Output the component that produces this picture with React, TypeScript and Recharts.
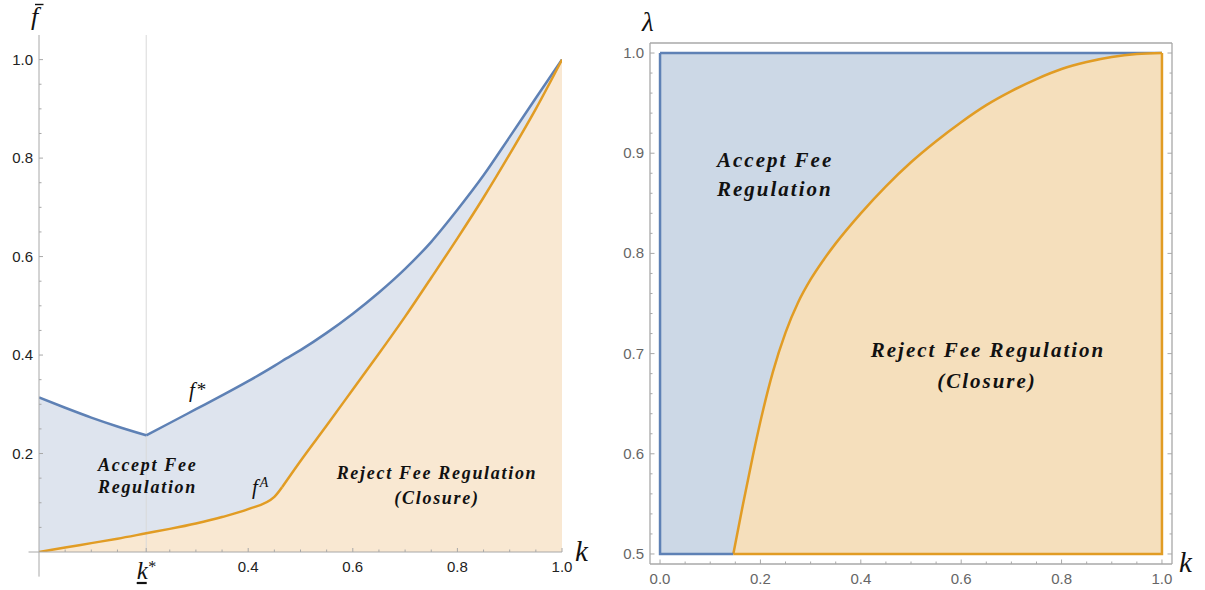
import React from 'react';
import { ComposedChart, Area, Line, XAxis, YAxis, ReferenceLine } from 'recharts';

// ---------- Left panel data ----------
const kStar = 0.205;
const kinkA = 0.465;
const leftK = [0, 0.05, 0.1, 0.15, 0.205, 0.25, 0.3, 0.35, 0.4, 0.45, 0.465, 0.5, 0.55, 0.6, 0.65, 0.7, 0.75, 0.8, 0.85, 0.9, 0.95, 1.0];
const fStarValues = [0.314, 0.293, 0.273, 0.255, 0.237, 0.262, 0.29, 0.318, 0.347, 0.378, 0.388, 0.41, 0.445, 0.484, 0.527, 0.575, 0.63, 0.695, 0.765, 0.843, 0.922, 1.0];
const fAValues = [0, 0.009, 0.018, 0.027, 0.038, 0.047, 0.058, 0.071, 0.087, 0.112, 0.132, 0.185, 0.257, 0.33, 0.403, 0.478, 0.557, 0.637, 0.72, 0.808, 0.9, 1.0];
const leftXMajor = [kStar, 0.4, 0.6, 0.8, 1.0];
const leftXMinor = [0.05, 0.1, 0.15, 0.25, 0.3, 0.35, 0.45, 0.5, 0.55, 0.65, 0.7, 0.75, 0.85, 0.9, 0.95];
const leftYMajor = [0.2, 0.4, 0.6, 0.8, 1.0];
const leftYMinor = [0.05, 0.1, 0.15, 0.25, 0.3, 0.35, 0.45, 0.5, 0.55, 0.65, 0.7, 0.75, 0.85, 0.9, 0.95];

// ---------- Right panel data ----------
const rightK = [0.146, 0.165, 0.185, 0.205, 0.225, 0.25, 0.275, 0.3, 0.325, 0.35, 0.4, 0.45, 0.5, 0.55, 0.6, 0.65, 0.7, 0.75, 0.8, 0.85, 0.9, 0.95, 1.0];
const lambdaValues = [0.5, 0.549, 0.598, 0.643, 0.682, 0.721, 0.751, 0.774, 0.793, 0.81, 0.84, 0.867, 0.891, 0.912, 0.931, 0.948, 0.962, 0.974, 0.984, 0.991, 0.996, 0.999, 1.0];
const acceptTopK = [0, 1];
const acceptTopL = [1, 1];
const acceptEdgeK = [0.146, 0, 0];
const acceptEdgeL = [0.5, 0.5, 1];
const rejectEdgeK = [0.146, 1, 1];
const rejectEdgeL = [0.5, 0.5, 1];
const rightXMajor = [0, 0.2, 0.4, 0.6, 0.8, 1.0];
const rightXMinor = [0.05, 0.1, 0.15, 0.25, 0.3, 0.35, 0.45, 0.5, 0.55, 0.65, 0.7, 0.75, 0.85, 0.9, 0.95];
const rightYMajor = [0.5, 0.6, 0.7, 0.8, 0.9, 1.0];
const rightYMinor = [0.52, 0.54, 0.56, 0.58, 0.62, 0.64, 0.66, 0.68, 0.72, 0.74, 0.76, 0.78, 0.82, 0.84, 0.86, 0.88, 0.92, 0.94, 0.96, 0.98];

const leftData = leftK.map((k, i) => ({ k, fStar: fStarValues[i], fA: fAValues[i] }));
const starLeftPart = leftData.filter((d) => d.k <= kStar + 1e-9);
const starRightPart = leftData.filter((d) => d.k >= kStar - 1e-9);
const aLeftPart = leftData.filter((d) => d.k <= kinkA + 1e-9);
const aRightPart = leftData.filter((d) => d.k >= kinkA - 1e-9);
const rightData = rightK.map((k, i) => ({ k, lam: lambdaValues[i] }));
const acceptTopData = acceptTopK.map((k, i) => ({ k, v: acceptTopL[i] }));
const acceptEdgeData = acceptEdgeK.map((k, i) => ({ k, v: acceptEdgeL[i] }));
const rejectEdgeData = rejectEdgeK.map((k, i) => ({ k, v: rejectEdgeL[i] }));

const BLUE = '#5e81b5';
const ORANGE = '#e19c24';
const SANS = '"Liberation Sans", Arial, sans-serif';
const SERIF = '"Liberation Serif", "Times New Roman", serif';

const isIn = (v: number, arr: number[]) => arr.some((a) => Math.abs(a - v) < 1e-9);

type TickOpts = {
  orient: 'bottom' | 'top' | 'left' | 'right';
  majors: number[];
  labels: boolean;
  labelColor: string;
  tickColor: string;
  majorLen: number;
  minorLen: number;
  special?: number;
};

function makeTick(o: TickOpts) {
  return (props: any) => {
    const { x, y, payload } = props;
    const v: number = payload.value;
    const major = isIn(v, o.majors);
    const len = major ? o.majorLen : o.minorLen;
    let x2 = x;
    let y2 = y;
    if (o.orient === 'bottom') y2 = y - len;
    if (o.orient === 'top') y2 = y + len;
    if (o.orient === 'left') x2 = x + len;
    if (o.orient === 'right') x2 = x - len;
    let label: React.ReactNode = null;
    if (o.labels && major) {
      if (o.special !== undefined && Math.abs(v - o.special) < 1e-9) {
        label = (
          <g>
            <text x={x - 4} y={y + 27} textAnchor="middle" fontFamily={SERIF} fontStyle="italic" fontSize={25} fill="#111">
              k
            </text>
            <text x={x + 6} y={y + 20} textAnchor="middle" fontFamily={SERIF} fontSize={16} fill="#111">
              *
            </text>
            <line x1={x - 9.5} y1={y + 31} x2={x + 0.5} y2={y + 31} stroke="#111" strokeWidth={2.2} />
          </g>
        );
      } else if (o.orient === 'bottom') {
        label = (
          <text x={x} y={y + 19.5} textAnchor="middle" fontFamily={SANS} fontSize={15} fill={o.labelColor}>
            {v.toFixed(1)}
          </text>
        );
      } else if (o.orient === 'left') {
        label = (
          <text x={x - 6} y={y + 5} textAnchor="end" fontFamily={SANS} fontSize={15} fill={o.labelColor}>
            {v.toFixed(1)}
          </text>
        );
      }
    }
    return (
      <g>
        <line x1={x} y1={y} x2={x2} y2={y2} stroke={o.tickColor} strokeWidth={1} />
        {label}
      </g>
    );
  };
}

const regionFont = {
  fontFamily: SERIF,
  fontStyle: 'italic' as const,
  fontWeight: 'bold' as const,
  fill: '#111',
};

function LeftChart() {
  const axisColor = '#a8a8a8';
  return (
    <ComposedChart width={600} height={590} data={leftData} margin={{ top: 35, right: 38, bottom: 37, left: 38 }}>
      <XAxis
        dataKey="k"
        type="number"
        domain={[0, 1]}
        allowDataOverflow
        ticks={[...leftXMinor, ...leftXMajor]}
        interval={0}
        height={1}
        tickSize={0}
        tickMargin={0}
        tickLine={false}
        axisLine={{ stroke: axisColor, strokeWidth: 1 }}
        tick={makeTick({ orient: 'bottom', majors: leftXMajor, labels: true, labelColor: '#222', tickColor: axisColor, majorLen: 4, minorLen: 2.5, special: kStar })}
      />
      <YAxis
        type="number"
        domain={[0, 1.05]}
        allowDataOverflow
        ticks={[...leftYMinor, ...leftYMajor]}
        interval={0}
        width={1}
        tickSize={0}
        tickMargin={0}
        tickLine={false}
        axisLine={{ stroke: axisColor, strokeWidth: 1 }}
        tick={makeTick({ orient: 'left', majors: leftYMajor, labels: true, labelColor: '#222', tickColor: axisColor, majorLen: 4, minorLen: 2.5 })}
      />
      <Area type="linear" dataKey="fStar" stroke="none" fill="#dee4ee" fillOpacity={1} dot={false} activeDot={false} isAnimationActive={false} />
      <Area type="linear" dataKey="fA" stroke="none" fill="#f9e8d2" fillOpacity={1} dot={false} activeDot={false} isAnimationActive={false} />
      <ReferenceLine x={kStar} stroke="#d9d9d9" strokeWidth={1} />
      <Line data={starLeftPart} type="monotone" dataKey="fStar" stroke={BLUE} strokeWidth={2.5} dot={false} activeDot={false} isAnimationActive={false} />
      <Line data={starRightPart} type="monotone" dataKey="fStar" stroke={BLUE} strokeWidth={2.5} dot={false} activeDot={false} isAnimationActive={false} />
      <Line data={aLeftPart} type="monotone" dataKey="fA" stroke={ORANGE} strokeWidth={2.5} dot={false} activeDot={false} isAnimationActive={false} />
      <Line data={aRightPart} type="monotone" dataKey="fA" stroke={ORANGE} strokeWidth={2.5} dot={false} activeDot={false} isAnimationActive={false} />
      <ReferenceLine segment={[{ x: 0, y: -0.05 }, { x: 0, y: 0 }]} stroke={axisColor} strokeWidth={1} ifOverflow="visible" />
      <ReferenceLine segment={[{ x: -0.02, y: 0 }, { x: 0, y: 0 }]} stroke={axisColor} strokeWidth={1} ifOverflow="visible" />
    </ComposedChart>
  );
}

function RightChart() {
  const axisColor = '#a8a8a8';
  const xTicks = [...rightXMinor, ...rightXMajor];
  const yTicks = [...rightYMinor, ...rightYMajor];
  return (
    <ComposedChart width={605} height={590} margin={{ top: 42, right: 32, bottom: 25, left: 49 }}>
      <XAxis
        xAxisId="b"
        dataKey="k"
        type="number"
        domain={[-0.02, 1.02]}
        allowDataOverflow
        ticks={xTicks}
        interval={0}
        height={1}
        tickSize={0}
        tickMargin={0}
        tickLine={false}
        axisLine={{ stroke: axisColor, strokeWidth: 1.3 }}
        tick={makeTick({ orient: 'bottom', majors: rightXMajor, labels: true, labelColor: '#666', tickColor: axisColor, majorLen: 4.5, minorLen: 2.5 })}
      />
      <XAxis
        xAxisId="t"
        orientation="top"
        type="number"
        domain={[-0.02, 1.02]}
        allowDataOverflow
        ticks={xTicks}
        interval={0}
        height={1}
        tickSize={0}
        tickMargin={0}
        tickLine={false}
        axisLine={{ stroke: axisColor, strokeWidth: 1.3 }}
        tick={makeTick({ orient: 'top', majors: rightXMajor, labels: false, labelColor: '#666', tickColor: axisColor, majorLen: 4.5, minorLen: 2.5 })}
      />
      <YAxis
        yAxisId="l"
        type="number"
        domain={[0.49, 1.01]}
        allowDataOverflow
        ticks={yTicks}
        interval={0}
        width={1}
        tickSize={0}
        tickMargin={0}
        tickLine={false}
        axisLine={{ stroke: axisColor, strokeWidth: 1.3 }}
        tick={makeTick({ orient: 'left', majors: rightYMajor, labels: true, labelColor: '#666', tickColor: axisColor, majorLen: 4.5, minorLen: 2.5 })}
      />
      <YAxis
        yAxisId="r"
        orientation="right"
        type="number"
        domain={[0.49, 1.01]}
        allowDataOverflow
        ticks={yTicks}
        interval={0}
        width={1}
        tickSize={0}
        tickMargin={0}
        tickLine={false}
        axisLine={{ stroke: axisColor, strokeWidth: 1.3 }}
        tick={makeTick({ orient: 'right', majors: rightYMajor, labels: false, labelColor: '#666', tickColor: axisColor, majorLen: 4.5, minorLen: 2.5 })}
      />
      <Area xAxisId="b" yAxisId="l" data={acceptTopData} type="linear" dataKey="v" baseValue={0.5} stroke={BLUE} strokeWidth={2.5} fill="#ccd8e6" fillOpacity={1} dot={false} activeDot={false} isAnimationActive={false} />
      <Line xAxisId="b" yAxisId="l" data={acceptEdgeData} type="linear" dataKey="v" stroke={BLUE} strokeWidth={2.5} dot={false} activeDot={false} isAnimationActive={false} />
      <Area xAxisId="b" yAxisId="l" data={rightData} type="monotone" dataKey="lam" baseValue={0.5} stroke={ORANGE} strokeWidth={2.5} fill="#f5dfbc" fillOpacity={1} dot={false} activeDot={false} isAnimationActive={false} />
      <Line xAxisId="b" yAxisId="l" data={rejectEdgeData} type="linear" dataKey="v" stroke={ORANGE} strokeWidth={2.5} dot={false} activeDot={false} isAnimationActive={false} />
    </ComposedChart>
  );
}

function Annotations() {
  return (
    <svg width={1205} height={590} style={{ position: 'absolute', left: 0, top: 0, pointerEvents: 'none' }}>
      {/* left panel */}
      <text x={31} y={25} fontFamily={SERIF} fontStyle="italic" fontSize={26} fill="#111">f</text>
      <line x1={35} y1={4.5} x2={43.5} y2={4.5} stroke="#111" strokeWidth={1.4} />
      <text x={575} y={561} fontFamily={SERIF} fontStyle="italic" fontSize={29} fill="#111">k</text>
      <text x={189} y={397} fontFamily={SERIF} fontStyle="italic" fontSize={21} fill="#111">
        f<tspan fontStyle="normal" fontSize={19} dx={2} dy={-1}>*</tspan>
      </text>
      <text x={252} y={494} fontFamily={SERIF} fontStyle="italic" fontSize={21} fill="#111">
        f<tspan fontSize={14} dx={2} dy={-7}>A</tspan>
      </text>
      <text x={98} y={471} fontSize={18} letterSpacing={1.7} {...regionFont}>Accept Fee</text>
      <text x={98} y={493} fontSize={18} letterSpacing={1.7} {...regionFont}>Regulation</text>
      <text x={437} y={479} fontSize={18} letterSpacing={1.7} textAnchor="middle" {...regionFont}>Reject Fee Regulation</text>
      <text x={437} y={504} fontSize={18} letterSpacing={1.7} textAnchor="middle" {...regionFont}>(Closure)</text>
      {/* right panel */}
      <text x={642} y={31} fontFamily={SERIF} fontStyle="italic" fontSize={27} fill="#111">λ</text>
      <text x={1179} y={572} fontFamily={SERIF} fontStyle="italic" fontSize={29} fill="#111">k</text>
      <text x={717} y={167} fontSize={21} letterSpacing={2} {...regionFont}>Accept Fee</text>
      <text x={717} y={196} fontSize={21} letterSpacing={2} {...regionFont}>Regulation</text>
      <text x={988} y={357} fontSize={21} letterSpacing={2} textAnchor="middle" {...regionFont}>Reject Fee Regulation</text>
      <text x={987} y={388} fontSize={21} letterSpacing={2} textAnchor="middle" {...regionFont}>(Closure)</text>
    </svg>
  );
}

export default function App() {
  return (
    <div style={{ position: 'absolute', left: 0, top: 0, width: 1205, height: 590, background: '#fff' }}>
      <div style={{ position: 'absolute', left: 0, top: 0 }}>
        <LeftChart />
      </div>
      <div style={{ position: 'absolute', left: 600, top: 0 }}>
        <RightChart />
      </div>
      <Annotations />
    </div>
  );
}
